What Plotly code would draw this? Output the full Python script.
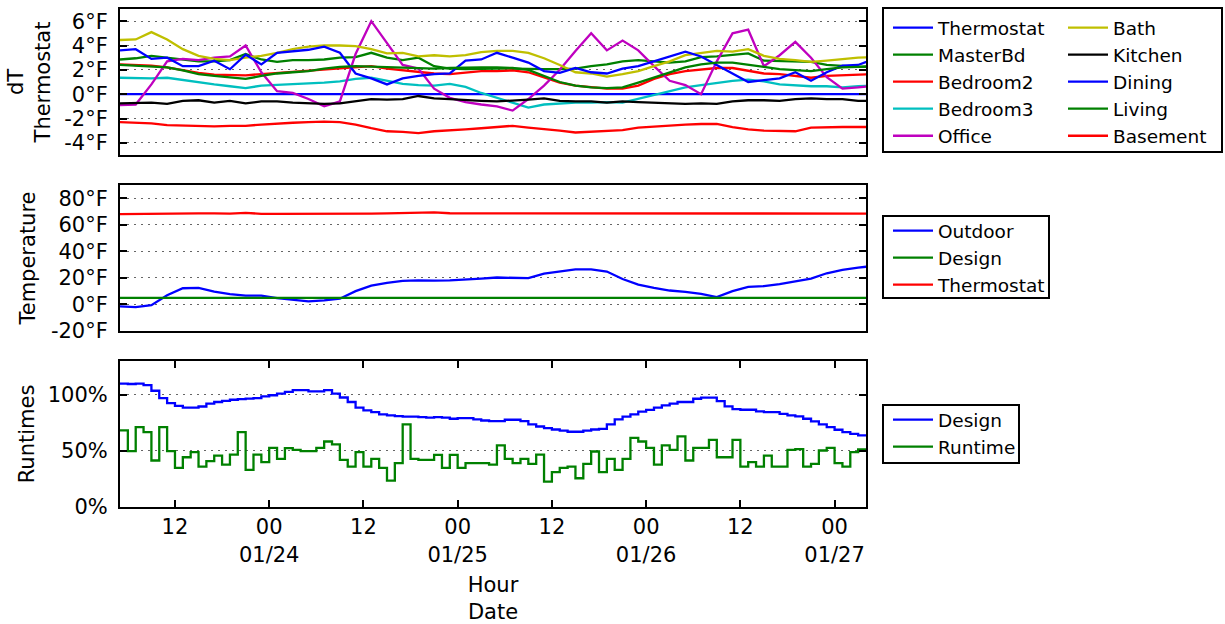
import pandas as pd
import plotly.graph_objects as go

# ---------------- data ----------------
start = "2015-01-23 05:00"
t2 = pd.date_range(start, periods=49, freq="2h")   # 2-hourly samples (temperatures)
t1 = pd.date_range(start, periods=96, freq="h")    # hourly samples (runtimes)

dt_thermostat = [0.0] * 49
dt_masterbd = [2.85, 2.95, 3.15, 3.0, 2.8, 2.7, 2.7, 2.8, 3.3, 2.85,
               2.65, 2.8, 2.8, 2.85, 3.0, 3.05, 3.4, 3.0, 2.8, 3.0,
               2.3, 2.1, 2.05, 2.1, 2.1, 2.1, 2.05, 2.05, 2.05, 2.1,
               2.3, 2.45, 2.7, 2.8, 2.7, 2.6, 2.7, 3.05, 3.1, 3.2,
               3.35, 2.75, 2.7, 2.7, 2.65, 2.4, 2.3, 2.25, 2.25]
dt_bedroom2 = [2.45, 2.4, 2.35, 2.2, 1.95, 1.75, 1.6, 1.55, 1.55, 1.65,
               1.75, 1.85, 1.95, 2.05, 2.15, 2.25, 2.3, 2.1, 1.95, 1.8,
               1.7, 1.65, 1.8, 1.9, 1.9, 1.95, 1.8, 1.35, 0.95, 0.7,
               0.55, 0.45, 0.45, 0.7, 1.25, 1.65, 1.9, 2.05, 2.15, 2.15,
               1.9, 1.7, 1.65, 1.5, 1.35, 1.5, 1.55, 1.65, 1.65]
dt_bedroom3 = [1.35, 1.3, 1.3, 1.35, 1.15, 0.95, 0.8, 0.65, 0.5, 0.7,
               0.75, 0.8, 0.85, 0.95, 1.05, 1.25, 1.35, 1.1, 0.85, 0.75,
               0.7, 0.85, 0.6, 0.1, -0.3, -0.7, -1.1, -0.85, -0.75, -0.7,
               -0.7, -0.65, -0.7, -0.4, -0.05, 0.25, 0.55, 0.75, 0.95, 1.1,
               1.2, 1.05, 0.8, 0.7, 0.65, 0.65, 0.55, 0.65, 0.7]
dt_office = [-0.9, -0.85, 0.8, 2.7, 2.9, 2.8, 3.0, 3.1, 4.0, 1.8,
             0.25, 0.1, -0.4, -1.0, -0.6, 3.3, 6.0, 4.2, 2.4, 2.1,
             0.45, -0.3, -0.65, -0.85, -1.0, -1.35, -0.4, 0.7, 2.0, 3.55,
             5.0, 3.6, 4.4, 3.6, 2.3, 1.1, 0.75, 0.0, 2.7, 5.0,
             5.3, 2.3, 3.2, 4.3, 3.0, 1.4, 0.45, 0.55, 0.7]
dt_bath = [4.45, 4.5, 5.1, 4.5, 3.7, 3.15, 2.9, 2.8, 3.0, 3.15,
           3.4, 3.7, 3.9, 4.0, 4.0, 3.95, 3.7, 3.35, 3.4, 3.1,
           3.2, 3.1, 3.2, 3.45, 3.55, 3.55, 3.4, 2.95, 2.4, 1.8,
           1.7, 1.45, 1.65, 1.9, 2.3, 2.7, 3.2, 3.4, 3.55, 3.5,
           3.7, 3.15, 2.9, 2.8, 2.65, 2.75, 2.9, 3.0, 3.05]
dt_kitchen = [-0.75, -0.75, -0.7, -0.8, -0.55, -0.5, -0.7, -0.55, -0.75, -0.6,
              -0.6, -0.7, -0.75, -0.8, -0.75, -0.55, -0.4, -0.45, -0.4, -0.15,
              -0.35, -0.4, -0.5, -0.55, -0.6, -0.55, -0.45, -0.35, -0.55, -0.6,
              -0.6, -0.7, -0.6, -0.65, -0.7, -0.75, -0.8, -0.75, -0.8, -0.6,
              -0.5, -0.5, -0.55, -0.4, -0.35, -0.4, -0.4, -0.55, -0.55]
dt_dining = [3.6, 3.7, 2.9, 3.0, 2.3, 2.3, 2.75, 2.05, 3.25, 2.45,
             3.4, 3.5, 3.65, 3.9, 3.4, 1.7, 1.3, 0.8, 1.3, 1.5,
             1.65, 1.7, 2.75, 2.85, 3.4, 3.0, 2.6, 1.9, 1.75, 2.15,
             1.8, 1.7, 2.1, 2.3, 2.7, 3.15, 3.5, 3.1, 2.4, 1.65,
             1.0, 1.15, 1.3, 1.8, 1.1, 1.8, 2.35, 2.4, 2.9]
dt_living = [2.4, 2.35, 2.3, 2.2, 1.95, 1.65, 1.5, 1.35, 1.25, 1.5,
             1.7, 1.8, 1.9, 2.1, 2.25, 2.3, 2.25, 2.2, 2.2, 2.15,
             2.1, 2.15, 2.2, 2.2, 2.2, 2.15, 2.0, 1.5, 1.0, 0.7,
             0.55, 0.5, 0.55, 0.95, 1.35, 1.8, 2.2, 2.45, 2.6, 2.6,
             2.45, 2.25, 2.05, 1.95, 1.9, 2.05, 2.2, 2.25, 2.3]
dt_basement = [-2.3, -2.35, -2.4, -2.55, -2.6, -2.65, -2.65, -2.6, -2.6, -2.5,
               -2.4, -2.35, -2.3, -2.25, -2.3, -2.5, -2.8, -3.05, -3.1, -3.2,
               -3.05, -3.0, -2.9, -2.8, -2.7, -2.6, -2.75, -2.85, -3.0, -3.15,
               -3.1, -3.0, -2.95, -2.75, -2.65, -2.55, -2.5, -2.45, -2.45, -2.7,
               -2.9, -3.0, -3.0, -3.05, -2.75, -2.7, -2.7, -2.7, -2.7]

temp_outdoor = [-1.5, -2.0, -0.5, 7.0, 12.2, 12.5, 9.7, 7.8, 6.7, 6.7,
                4.8, 3.5, 2.3, 3.0, 4.3, 10.0, 14.2, 16.3, 17.8, 18.2,
                17.9, 18.2, 18.6, 19.5, 20.3, 20.0, 19.8, 23.3, 25.0, 26.5,
                26.5, 24.8, 19.2, 15.0, 12.5, 10.5, 9.5, 8.0, 5.5, 10.0,
                13.2, 13.8, 15.3, 17.3, 19.5, 23.5, 26.0, 27.8, 29.0]
temp_design = [5.0] * 49
temp_thermostat = [68.0, 68.2, 68.3, 68.5, 68.5, 68.6, 68.6, 68.5, 69.0, 68.3,
                   68.2, 68.2, 68.0, 68.1, 68.3, 68.4, 68.5, 68.6, 68.8, 69.4,
                   69.4, 68.7, 68.5, 68.5, 68.6, 68.6, 68.6, 68.6, 68.6, 68.6,
                   68.5, 68.5, 68.5, 68.4, 68.4, 68.3, 68.3, 68.4, 68.5, 68.5,
                   68.5, 68.6, 68.6, 68.5, 68.5, 68.6, 68.6, 68.5, 68.5]

run_design = [109.8, 109.5, 109.8, 108.5, 103.5, 97, 92.5, 90, 88.5, 88.5,
              89.5, 92, 93.5, 94.5, 95.5, 96, 96.5, 97, 98.5, 99.5,
              101, 102.5, 104, 104, 103, 103, 104, 101, 97.5, 93.5,
              88.5, 86, 84.5, 82.5, 81.5, 81, 80.5, 80.5, 80, 79.5,
              80, 79.5, 78.6, 79.2, 79.2, 78, 77, 76.5, 76.5, 77.7,
              77.7, 76.5, 73.5, 71.7, 70.2, 69, 68, 67, 67, 68,
              69, 69.6, 73.5, 78, 80.5, 82.4, 85, 86.5, 88.4, 90.5,
              92, 93.5, 93.5, 96.4, 97.3, 97.3, 94.3, 89.6, 87.2, 86.6,
              86.6, 85.1, 84.5, 84.5, 83, 81.5, 80.7, 78.6, 76.2, 73.5,
              71.1, 68.8, 66.7, 65.2, 63.7, 63.5]
run_runtime = [68.2, 49.7, 71.1, 66.7, 41.4, 71.1, 49.7, 34.8, 44.3, 48.8,
               36, 40.8, 45.8, 37.8, 46.7, 66.7, 33, 46.7, 39.9, 52.7,
               42.9, 52.4, 50.9, 49.7, 49.7, 52.7, 58.3, 55.7, 42, 36,
               48.8, 36, 42.9, 34.8, 23.5, 39, 73.5, 42.9, 42, 42,
               46.5, 34.8, 46.4, 34.8, 39, 39, 39, 37.8, 54.8, 42.9,
               39, 42.9, 38.4, 46.7, 22.6, 31, 34.8, 36, 25.6, 38.4,
               49.4, 31, 42.9, 33, 42.9, 61.6, 58.3, 52.7, 37.8, 54.8,
               50.9, 62.8, 41.4, 52.7, 52.7, 59.8, 44.3, 44.3, 59.8, 36,
               39.9, 36, 45.8, 36, 36, 50.9, 51.5, 36, 38.4, 50.3,
               52.7, 39, 36, 48.8, 51.2, 51.2]

x_tickvals = ["2015-01-23 12:00", "2015-01-24 00:00", "2015-01-24 12:00",
              "2015-01-25 00:00", "2015-01-25 12:00", "2015-01-26 00:00",
              "2015-01-26 12:00", "2015-01-27 00:00"]
x_ticktext = ["12", "00<br>01/24", "12", "00<br>01/25", "12",
              "00<br>01/26", "12", "00<br>01/27"]
x_range = ["2015-01-23 05:00", "2015-01-27 04:00"]

dT_ticks = [-4, -2, 0, 2, 4, 6]
dT_labels = ["-4°F", "-2°F", "0°F", "2°F", "4°F", "6°F"]
T_ticks = [-20, 0, 20, 40, 60, 80]
T_labels = ["-20°F", "0°F", "20°F", "40°F", "60°F", "80°F"]
R_ticks = [0, 50, 100]
R_labels = ["0%", "50%", "100%"]

# ---------------- figure ----------------
B, G, R, C, M, Y, K = "#0000ff", "#008000", "#ff0000", "#00bfbf", "#bf00bf", "#bfbf00", "#000000"
LW = 2.3
fig = go.Figure()

top_series = [
    ("Thermostat", dt_thermostat, B, "legend", 1),
    ("MasterBd", dt_masterbd, G, "legend", 2),
    ("Bedroom2", dt_bedroom2, R, "legend", 3),
    ("Bedroom3", dt_bedroom3, C, "legend", 4),
    ("Office", dt_office, M, "legend", 5),
    ("Bath", dt_bath, Y, "legend4", 1),
    ("Kitchen", dt_kitchen, K, "legend4", 2),
    ("Dining", dt_dining, B, "legend4", 3),
    ("Living", dt_living, G, "legend4", 4),
    ("Basement", dt_basement, R, "legend4", 5),
]
for name, vals, col, leg, rank in top_series:
    fig.add_trace(go.Scatter(x=t2, y=vals, name=name, mode="lines",
                             line=dict(color=col, width=LW),
                             xaxis="x", yaxis="y", legend=leg, legendrank=rank))

for name, vals, col in [("Outdoor", temp_outdoor, B), ("Design", temp_design, G),
                        ("Thermostat", temp_thermostat, R)]:
    fig.add_trace(go.Scatter(x=t2, y=vals, name=name, mode="lines",
                             line=dict(color=col, width=LW),
                             xaxis="x2", yaxis="y2", legend="legend2"))

for name, vals, col in [("Design", run_design, B), ("Runtime", run_runtime, G)]:
    fig.add_trace(go.Scatter(x=t1, y=vals, name=name, mode="lines",
                             line=dict(color=col, width=LW, shape="hv"),
                             xaxis="x3", yaxis="y3", legend="legend3"))

FONT = "DejaVu Sans"
W = 1225
H = 624
ml, mr, mt, mb = 120, 359, 9, 117
pw, ph = W - ml - mr, H - mt - mb


def px_x(x):
    return (x - ml) / pw


def px_y(y):
    return 1 - (y - mt) / ph


def dom(top, bottom):
    return [px_y(bottom), px_y(top)]


TICKFONT = dict(size=21, family=FONT, color="black")
TITLEFONT = dict(size=21, family=FONT, color="black")

xcommon = dict(type="date", range=x_range, showline=True, linewidth=2,
               linecolor="black", showgrid=False, zeroline=False, automargin=False)
ycommon = dict(showline=True, linewidth=2, linecolor="black", mirror="ticks",
               ticks="inside", ticklen=7, tickwidth=1.5, tickcolor="black",
               showgrid=True, gridcolor="#666666", griddash="2px,5px", gridwidth=1.2,
               zeroline=False, tickfont=TICKFONT, automargin=False,
               ticklabelstandoff=6, title_font=TITLEFONT)

fig.update_layout(
    width=W, height=H,
    margin=dict(l=ml, r=mr, t=mt, b=mb, autoexpand=False),
    paper_bgcolor="white", plot_bgcolor="white",
    font=dict(family=FONT, color="black", size=18),
    xaxis=dict(xcommon, anchor="y", mirror=True, showticklabels=False, ticks=""),
    xaxis2=dict(xcommon, anchor="y2", mirror=True, showticklabels=False, ticks="",
                matches="x"),
    xaxis3=dict(xcommon, anchor="y3", mirror="ticks", matches="x",
                ticks="inside", ticklen=7, tickwidth=1.5, tickcolor="black",
                tickvals=x_tickvals, ticktext=x_ticktext, tickfont=TICKFONT,
                ticklabelstandoff=0,
                title=dict(text="Hour<br>Date", standoff=14, font=TITLEFONT)),
    yaxis=dict(ycommon, domain=dom(9, 155), range=[-5, 7], anchor="x",
               tickvals=dT_ticks, ticktext=dT_labels,
               title=dict(text="dT<br>Thermostat", standoff=8)),
    yaxis2=dict(ycommon, domain=dom(185, 331), range=[-20, 90], anchor="x2",
                tickvals=T_ticks, ticktext=T_labels,
                title=dict(text="Temperature", standoff=10)),
    yaxis3=dict(ycommon, domain=dom(361, 507), range=[0, 130], anchor="x3",
                tickvals=R_ticks, ticktext=R_labels,
                title=dict(text="Runtimes", standoff=7)),
)

legfont = dict(size=18.5, family=FONT, color="black")
legcommon = dict(xanchor="left", yanchor="top", borderwidth=0,
                 bgcolor="rgba(0,0,0,0)", font=legfont, itemwidth=40,
                 tracegroupgap=0)
fig.update_layout(
    legend=dict(legcommon, x=px_x(888), y=px_y(9)),
    legend4=dict(legcommon, x=px_x(888 + 175), y=px_y(9)),
    legend2=dict(legcommon, x=px_x(888), y=px_y(212)),
    legend3=dict(legcommon, x=px_x(888), y=px_y(401)),
)

# legend frames
for (x0, x1, y0, y1) in [(883, 1222, 8, 152), (883, 1049, 216, 298), (883, 1019, 405, 463)]:
    fig.add_shape(type="rect", xref="paper", yref="paper",
                  x0=px_x(x0), x1=px_x(x1), y0=px_y(y1), y1=px_y(y0),
                  line=dict(color="black", width=2), fillcolor="rgba(0,0,0,0)",
                  layer="below")

fig.write_html("out.html")
